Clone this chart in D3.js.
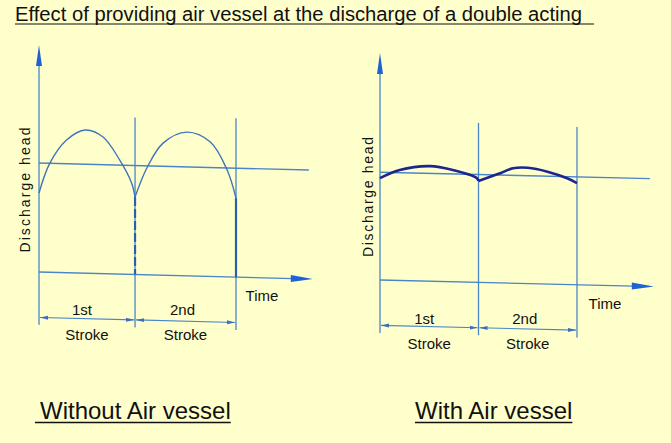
<!DOCTYPE html>
<html>
<head>
<meta charset="utf-8">
<script src="https://cdn.jsdelivr.net/npm/d3@7"></script>
<style>
  body { margin: 0; background: #ffffcc; }
  text { font-family: "Liberation Sans", Arial, sans-serif; fill: #111; }
</style>
</head>
<body>
<div id="chart"></div>
<script>
////////////////////////////////////////////////////////////////////////
// Data (time in strokes, head in units: 0 on the time axis, 10 at the arrow tip)
let titleText = "Effect of providing air vessel at the discharge of a double acting";
let panelTitles = ["Without Air vessel", "With Air vessel"];
let strokeLabels = ["1st", "2nd"];
let strokeWord = "Stroke";
let yLabel = "Discharge  head";
let xLabel = "Time";

// without air vessel: one arch per stroke
let withoutStroke1 = [[0, 3.48], [0.11, 4.81], [0.28, 5.85], [0.47, 6.31], [0.65, 6.02], [0.82, 5.02], [0.94, 4.03], [0.975, 3.41]];
let withoutStroke2 = [[0.975, 3.41], [1.10, 4.75], [1.26, 5.82], [1.50, 6.33], [1.74, 5.92], [1.91, 4.71], [2.0, 3.48]];
let withoutMean = 4.8;
let withoutStrokeEnds = [0, 0.975, 2.0];
let withoutStrokeTops = [null, 6.92, 7.0];

// with air vessel: small ripple around the mean
let withStroke1 = [[0, 4.49], [0.2, 4.87], [0.51, 5.07], [0.74, 4.92], [0.98, 4.6], [1.0, 4.47]];
let withStroke2 = [[1.0, 4.47], [1.22, 4.83], [1.35, 5.06], [1.5, 5.1], [1.7, 4.95], [1.9, 4.68], [2.0, 4.48]];
let withMean = 4.75;
let withStrokeEnds = [0, 1.0, 2.0];
let withStrokeTops = [null, 7.02, 6.95];

let timeAxisEnd = 2.78;
let meanEnd = 2.74;
let headTop = 10;
let headBottom = -2.33;
let bracketHead = -2.0;

////////////////////////////////////////////////////////////////////////
// Canvas
let width = 671;
let height = 443;

let svg = d3.select("#chart")
  .append("svg")
  .attr("width", width).attr("height", height);

svg.append("rect").attr("width", width).attr("height", height).attr("fill", "#ffffcc");

let lineColor = "#4a85c8";
let arrowColor = "#1f62d6";

let defs = svg.append("defs");
defs.append("marker")
  .attr("id", "tip")
  .attr("viewBox", "0 -3 8 6")
  .attr("refX", 8).attr("refY", 0)
  .attr("markerWidth", 8).attr("markerHeight", 6)
  .attr("markerUnits", "userSpaceOnUse")
  .attr("orient", "auto-start-reverse")
  .append("path")
  .attr("d", "M0,-2L8,0L0,2Z")
  .attr("fill", "#3b6fc0");

// shared scales, local to each panel origin
let xScale = d3.scaleLinear().domain([0, 2]).range([0, 197]);
let yScale = d3.scaleLinear().domain([0, 10]).range([0, -227]);

let line = d3.line()
  .x(d => xScale(d[0]))
  .y(d => yScale(d[1]))
  .curve(d3.curveCatmullRom.alpha(0.5));

////////////////////////////////////////////////////////////////////////
// Title
svg.append("text")
  .attr("x", 15).attr("y", 21)
  .attr("font-size", 20)
  .attr("textLength", 567)
  .attr("lengthAdjust", "spacingAndGlyphs")
  .text(titleText);
svg.append("line")
  .attr("x1", 15).attr("x2", 594).attr("y1", 24).attr("y2", 24)
  .attr("stroke", "#111").attr("stroke-width", 1.2);

////////////////////////////////////////////////////////////////////////
// One panel
function drawPanel(p) {
  let outer = svg.append("g").attr("transform", "translate(" + p.ox + "," + p.oy + ")");
  let g = outer.append("g").attr("transform", "skewY(" + p.skew + ")");

  // vertical head axis with arrowhead
  g.append("line")
    .attr("x1", 0).attr("x2", 0)
    .attr("y1", yScale(headBottom)).attr("y2", yScale(headTop) + 10)
    .attr("stroke", lineColor).attr("stroke-width", 1.3);
  g.append("path")
    .attr("d", "M0," + yScale(headTop) + "L3," + (yScale(headTop) + 21) + "L-3," + (yScale(headTop) + 21) + "Z")
    .attr("fill", arrowColor);

  // time axis with arrowhead
  g.append("line")
    .attr("x1", 0).attr("x2", xScale(timeAxisEnd) - 10)
    .attr("y1", yScale(0)).attr("y2", yScale(0))
    .attr("stroke", lineColor).attr("stroke-width", 1.3);
  g.append("path")
    .attr("d", "M" + xScale(timeAxisEnd) + ",0L" + (xScale(timeAxisEnd) - 22) + ",-3.5L" + (xScale(timeAxisEnd) - 22) + ",3.5Z")
    .attr("fill", arrowColor);

  // mean head line
  g.append("line")
    .attr("x1", 0).attr("x2", xScale(meanEnd))
    .attr("y1", yScale(p.mean)).attr("y2", yScale(p.mean))
    .attr("stroke", lineColor).attr("stroke-width", 1.4);

  // stroke boundaries
  p.strokeEnds.forEach(function (t, i) {
    if (i == 0) return;
    g.append("line")
      .attr("x1", xScale(t)).attr("x2", xScale(t))
      .attr("y1", yScale(headBottom)).attr("y2", yScale(p.strokeTops[i]))
      .attr("stroke", lineColor).attr("stroke-width", 1.3);
  });

  // darker lower part of the boundaries (left figure)
  if (p.lowerDark) {
    p.strokeEnds.forEach(function (t, i) {
      if (i == 0) return;
      let seg = i == 1 ? p.curves[0] : p.curves[1];
      let end = seg[seg.length - 1];
      g.append("line")
        .attr("x1", xScale(t)).attr("x2", xScale(t))
        .attr("y1", yScale(end[1])).attr("y2", yScale(0))
        .attr("stroke", "#2b5fae").attr("stroke-width", 2.2)
        .attr("stroke-dasharray", i == 1 ? "9,3" : null);
    });
  }

  // head curves
  p.curves.forEach(function (c) {
    g.append("path")
      .attr("d", line(c))
      .attr("fill", "none")
      .attr("stroke", p.curveColor)
      .attr("stroke-width", p.curveWidth);
  });

  // stroke brackets
  for (let i = 0; i < 2; i++) {
    g.append("line")
      .attr("x1", xScale(p.strokeEnds[i]) + 1).attr("x2", xScale(p.strokeEnds[i + 1]) - 1)
      .attr("y1", yScale(bracketHead)).attr("y2", yScale(bracketHead))
      .attr("stroke", lineColor).attr("stroke-width", 1.1)
      .attr("marker-start", "url(#tip)")
      .attr("marker-end", "url(#tip)");
  }

  // texts (not skewed)
  outer.append("text")
    .attr("transform", "translate(" + p.yLabelPos[0] + "," + p.yLabelPos[1] + ") rotate(-90)")
    .attr("text-anchor", "middle")
    .attr("dominant-baseline", "central")
    .attr("font-size", 14)
    .attr("textLength", p.yLabelLen)
    .attr("lengthAdjust", "spacing")
    .text(yLabel);

  outer.append("text")
    .attr("x", p.timePos[0]).attr("y", p.timePos[1])
    .attr("text-anchor", "middle")
    .attr("dominant-baseline", "central")
    .attr("font-size", 15)
    .text(xLabel);

  let labelShift = [-5, -3];
  strokeLabels.forEach(function (s, i) {
    let mid = xScale((p.strokeEnds[i] + p.strokeEnds[i + 1]) / 2);
    outer.append("text")
      .attr("x", mid + labelShift[i]).attr("y", p.labelRows[0])
      .attr("text-anchor", "middle")
      .attr("dominant-baseline", "central")
      .attr("font-size", 15)
      .text(s);
    outer.append("text")
      .attr("x", mid).attr("y", p.labelRows[1])
      .attr("text-anchor", "middle")
      .attr("dominant-baseline", "central")
      .attr("font-size", 15)
      .text(strokeWord);
  });
}

drawPanel({
  ox: 39, oy: 272, skew: 1.49,
  mean: withoutMean,
  strokeEnds: withoutStrokeEnds, strokeTops: withoutStrokeTops,
  curves: [withoutStroke1, withoutStroke2],
  curveColor: "#3f74bd", curveWidth: 1.4,
  lowerDark: true,
  yLabelPos: [-14, -82], yLabelLen: 125,
  timePos: [223, 23],
  labelRows: [37, 62]
});

drawPanel({
  ox: 380, oy: 280, skew: 1.375,
  mean: withMean,
  strokeEnds: withStrokeEnds, strokeTops: withStrokeTops,
  curves: [withStroke1, withStroke2],
  curveColor: "#1d2590", curveWidth: 2.6,
  lowerDark: false,
  yLabelPos: [-12, -83], yLabelLen: 120,
  timePos: [225, 23],
  labelRows: [38, 63]
});

////////////////////////////////////////////////////////////////////////
// Panel captions
let captionX = [40, 415];
panelTitles.forEach(function (t, i) {
  let txt = svg.append("text")
    .attr("x", captionX[i]).attr("y", 419)
    .attr("font-size", 24)
    .text(t);
  let w = txt.node().getComputedTextLength();
  svg.append("line")
    .attr("x1", captionX[i] - (i == 0 ? 5 : 0)).attr("x2", captionX[i] + w)
    .attr("y1", 422.5).attr("y2", 422.5)
    .attr("stroke", "#111").attr("stroke-width", 1.3);
});
</script>
</body>
</html>
